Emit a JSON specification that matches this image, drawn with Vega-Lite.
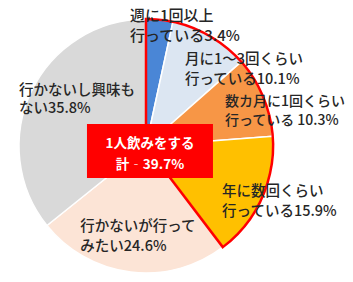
{
  "$schema": "https://vega.github.io/schema/vega-lite/v6.json",
  "autosize": "none",
  "width": 292,
  "height": 272,
  "padding": {"left": 0, "top": 10, "right": 61, "bottom": 0},
  "background": "white",
  "config": {"view": {"stroke": null}},
  "data": {"values": [
    {"idx": 1, "cat": "週に1回以上行っている", "value": 3.4, "label": "週に1回以上\n行っている3.4%", "group": "1人飲みをする"},
    {"idx": 2, "cat": "月に1～3回くらい行っている", "value": 10.1, "label": "月に1～3回くらい\n行っている10.1%", "group": "1人飲みをする"},
    {"idx": 3, "cat": "数カ月に1回くらい行っている", "value": 10.3, "label": "数カ月に1回くらい\n行っている 10.3%", "group": "1人飲みをする"},
    {"idx": 4, "cat": "年に数回くらい行っている", "value": 15.9, "label": "年に数回くらい\n行っている15.9%", "group": "1人飲みをする"},
    {"idx": 5, "cat": "行かないが行ってみたい", "value": 24.6, "label": "行かないが行って\nみたい24.6%", "group": "しない"},
    {"idx": 6, "cat": "行かないし興味もない", "value": 35.8, "label": "行かないし興味も\nない35.8%", "group": "しない"}
  ]},
  "layer": [
    {
      "mark": {"type": "arc", "outerRadius": 127, "stroke": "white", "strokeWidth": 1.5},
      "encoding": {
        "theta": {"field": "value", "type": "quantitative", "stack": true},
        "order": {"field": "idx", "type": "quantitative"},
        "color": {
          "field": "cat", "type": "nominal", "legend": null,
          "scale": {
            "domain": ["週に1回以上行っている", "月に1～3回くらい行っている", "数カ月に1回くらい行っている", "年に数回くらい行っている", "行かないが行ってみたい", "行かないし興味もない"],
            "range": ["#4A86D6", "#DCE6F2", "#F79646", "#FFC000", "#FCE4D6", "#D9D9D9"]
          }
        }
      }
    },
    {
      "transform": [
        {"filter": "datum.group === '1人飲みをする'"},
        {"aggregate": [{"op": "sum", "field": "value", "as": "total"}], "groupby": ["group"]}
      ],
      "mark": {"type": "arc", "outerRadius": 127, "fill": "white", "fillOpacity": 0, "stroke": "#FF0000", "strokeWidth": 2.5},
      "encoding": {
        "theta": {"field": "total", "type": "quantitative", "stack": true}
      }
    },
    {
      "mark": {"type": "text", "radius": 100, "dx": -26.6, "dy": -30.6, "align": "left", "baseline": "middle", "lineBreak": "\n", "lineHeight": 20, "font": "Noto Sans CJK JP", "fontSize": 15, "fontWeight": 500, "color": "#262626"},
      "encoding": {
        "theta": {"field": "value", "type": "quantitative", "stack": true},
        "order": {"field": "idx", "type": "quantitative"},
        "text": {"condition": {"test": "datum.idx === 1", "field": "label"}, "value": ""}
      }
    },
    {
      "mark": {"type": "text", "radius": 100, "dx": -11.6, "dy": 0.3, "align": "left", "baseline": "middle", "lineBreak": "\n", "lineHeight": 20, "font": "Noto Sans CJK JP", "fontSize": 14.5, "fontWeight": 500, "color": "#262626"},
      "encoding": {
        "theta": {"field": "value", "type": "quantitative", "stack": true},
        "order": {"field": "idx", "type": "quantitative"},
        "text": {"condition": {"test": "datum.idx === 2", "field": "label"}, "value": ""}
      }
    },
    {
      "mark": {"type": "text", "radius": 100, "dx": -13.2, "dy": -5.2, "align": "left", "baseline": "middle", "lineBreak": "\n", "lineHeight": 19, "font": "Noto Sans CJK JP", "fontSize": 14, "fontWeight": 500, "color": "#262626"},
      "encoding": {
        "theta": {"field": "value", "type": "quantitative", "stack": true},
        "order": {"field": "idx", "type": "quantitative"},
        "text": {"condition": {"test": "datum.idx === 3", "field": "label"}, "value": ""}
      }
    },
    {
      "mark": {"type": "text", "radius": 100, "dx": -15.1, "dy": 4.8, "align": "left", "baseline": "middle", "lineBreak": "\n", "lineHeight": 20, "font": "Noto Sans CJK JP", "fontSize": 14.5, "fontWeight": 500, "color": "#262626"},
      "encoding": {
        "theta": {"field": "value", "type": "quantitative", "stack": true},
        "order": {"field": "idx", "type": "quantitative"},
        "text": {"condition": {"test": "datum.idx === 4", "field": "label"}, "value": ""}
      }
    },
    {
      "mark": {"type": "text", "radius": 100, "dx": -53.5, "dy": -18.2, "align": "left", "baseline": "middle", "lineBreak": "\n", "lineHeight": 20, "font": "Noto Sans CJK JP", "fontSize": 14.5, "fontWeight": 500, "color": "#262626"},
      "encoding": {
        "theta": {"field": "value", "type": "quantitative", "stack": true},
        "order": {"field": "idx", "type": "quantitative"},
        "text": {"condition": {"test": "datum.idx === 5", "field": "label"}, "value": ""}
      }
    },
    {
      "mark": {"type": "text", "radius": 100, "dx": -36.9, "dy": -11.6, "align": "left", "baseline": "middle", "lineBreak": "\n", "lineHeight": 18, "font": "Noto Sans CJK JP", "fontSize": 14.5, "fontWeight": 500, "color": "#262626"},
      "encoding": {
        "theta": {"field": "value", "type": "quantitative", "stack": true},
        "order": {"field": "idx", "type": "quantitative"},
        "text": {"condition": {"test": "datum.idx === 6", "field": "label"}, "value": ""}
      }
    },
    {
      "data": {"values": [{"title": "1人飲みをする\n計‐39.7%"}]},
      "layer": [
        {
          "mark": {"type": "point", "shape": "M-0.937,-0.349L1.063,-0.349L1.063,0.508L-0.937,0.508Z", "size": 15876, "filled": true, "fill": "#FF0000", "opacity": 1, "strokeWidth": 0},
          "encoding": {}
        },
        {
          "mark": {"type": "text", "align": "center", "baseline": "middle", "lineBreak": "\n", "lineHeight": 21, "font": "Noto Sans CJK JP", "fontSize": 13.5, "fontWeight": "bold", "color": "white", "dx": 4, "dy": -2},
          "encoding": {"text": {"field": "title"}}
        }
      ]
    }
  ]
}
